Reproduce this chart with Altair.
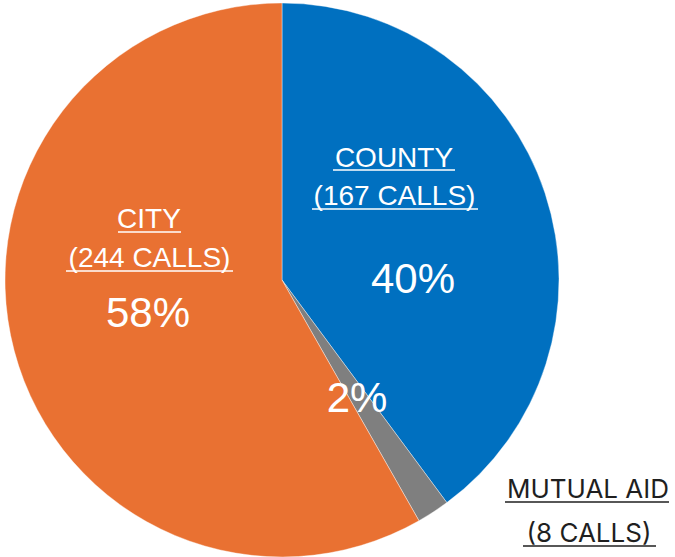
import altair as alt
import pandas as pd

categories = ["COUNTY", "MUTUAL AID", "CITY"]
calls = [167, 8, 244]
colors = ["#0070C0", "#7F7F7F", "#E97132"]
order_idx = [0, 1, 2]

total = sum(calls)
pcts = [f"{round(v / total * 100)}%" for v in calls]
sub = [f"({v} CALLS)" for v in calls]

df = pd.DataFrame({"category": categories, "calls": calls, "ord": order_idx})

CX, CY, R = 282, 280, 277

arc = alt.Chart(df).mark_arc(outerRadius=R, stroke="#ffffff", strokeWidth=0.4).encode(
    theta=alt.Theta("calls:Q", stack=True),
    color=alt.Color("category:N", scale=alt.Scale(domain=categories, range=colors), legend=None),
    order=alt.Order("ord:Q"),
    x=alt.value(CX),
    y=alt.value(CY),
)

def txt(s, x, y, size, font, color):
    d = pd.DataFrame({"t": [s]})
    return alt.Chart(d).mark_text(
        align="center", baseline="alphabetic", fontSize=size, font=font, color=color
    ).encode(text="t:N", x=alt.value(x), y=alt.value(y))

def uline(x1, x2, y, color, w=1.5):
    d = pd.DataFrame({"k": [0]})
    return alt.Chart(d).mark_rule(color=color, strokeWidth=w).encode(
        x=alt.value(x1), x2=alt.value(x2), y=alt.value(y)
    )

AR = "Liberation Sans"
OUT = "Inter"
W = "#ffffff"
DK = "#1f1f1f"

layers = [
    arc,
    # County
    txt(categories[0], 394, 167, 28, AR, W), uline(333, 455, 170, W),
    txt(sub[0], 394.5, 205, 28, AR, W), uline(312, 478, 209, W),
    txt(pcts[0], 413, 293, 42, AR, W),
    # Mutual aid
    txt(pcts[1], 357, 412, 42, AR, W),
    txt(categories[1], 588, 498, 26, OUT, DK), uline(505, 669, 502, DK),
    txt(sub[1], 589, 542, 26, OUT, DK), uline(523, 656, 546, DK),
    # City
    txt(categories[2], 149, 228, 28, AR, W), uline(118, 181, 232, W),
    txt(sub[2], 149.5, 267, 28, AR, W), uline(66, 233, 271, W),
    txt(pcts[2], 148, 327, 42, AR, W),
]

chart = alt.layer(*layers).properties(
    width=675, height=557, autosize=alt.AutoSizeParams(type="none"), padding=0
).configure_view(stroke=None)

chart.save("out.html", embed_options={"renderer": "svg", "actions": False})
